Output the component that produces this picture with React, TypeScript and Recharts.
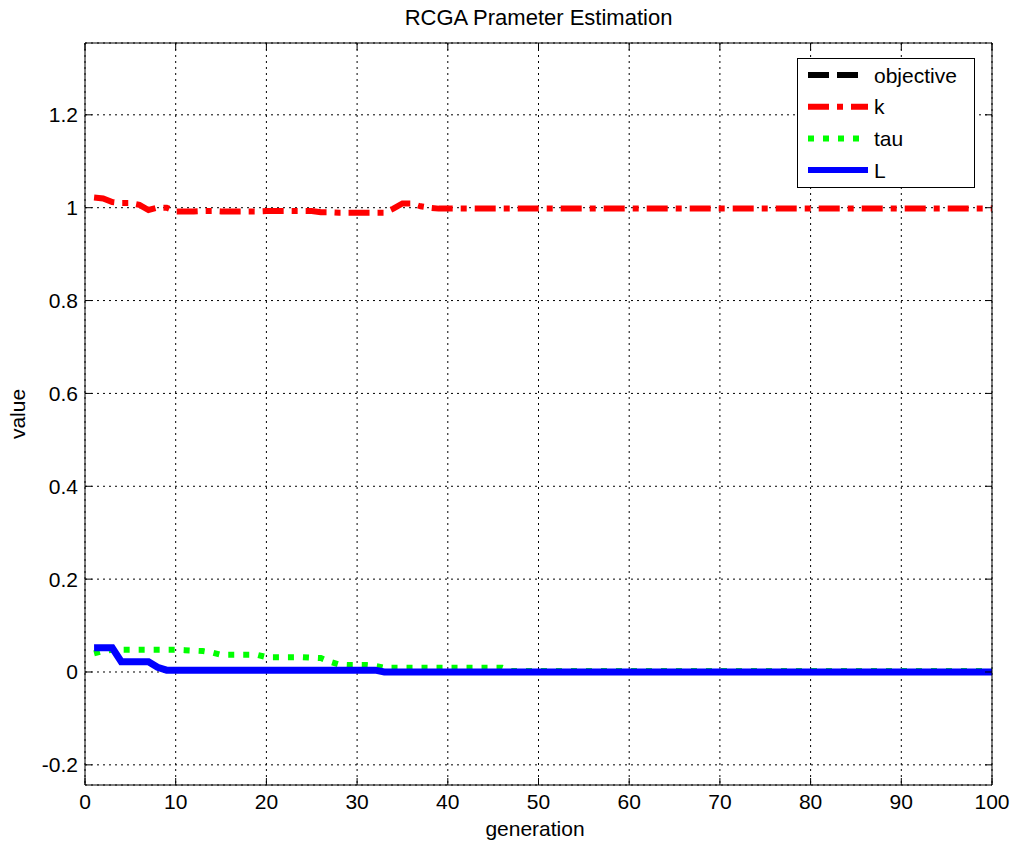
import React from "react";
import {
  LineChart,
  Line,
  XAxis,
  YAxis,
  CartesianGrid,
  Legend,
} from "recharts";

// generations 1..100
const generation = [
  1, 2, 3, 4, 5, 6, 7, 8, 9, 10, 11, 12, 13, 14, 15, 16, 17, 18, 19, 20,
  21, 22, 23, 24, 25, 26, 27, 28, 29, 30, 31, 32, 33, 34, 35, 36, 37, 38, 39, 40,
  41, 42, 43, 44, 45, 46, 47, 48, 49, 50, 51, 52, 53, 54, 55, 56, 57, 58, 59, 60,
  61, 62, 63, 64, 65, 66, 67, 68, 69, 70, 71, 72, 73, 74, 75, 76, 77, 78, 79, 80,
  81, 82, 83, 84, 85, 86, 87, 88, 89, 90, 91, 92, 93, 94, 95, 96, 97, 98, 99, 100,
];

const kValues = [
  1.022, 1.02, 1.012, 1.01, 1.01, 1.006, 0.995, 1.0, 1.0, 0.992,
  0.992, 0.992, 0.993, 0.993, 0.992, 0.992, 0.992, 0.992, 0.992, 0.993,
  0.993, 0.993, 0.993, 0.993, 0.993, 0.99, 0.99, 0.989, 0.989, 0.989,
  0.989, 0.989, 0.989, 0.998, 1.009, 1.009, 1.003, 1.0, 0.998, 0.998,
  0.998, 0.998, 0.998, 0.998, 0.998, 0.998, 0.998, 0.998, 0.998, 0.998,
  0.998, 0.998, 0.998, 0.998, 0.998, 0.998, 0.998, 0.998, 0.998, 0.998,
  0.998, 0.998, 0.998, 0.998, 0.998, 0.998, 0.998, 0.998, 0.998, 0.998,
  0.998, 0.998, 0.998, 0.998, 0.998, 0.998, 0.998, 0.998, 0.998, 0.998,
  0.998, 0.998, 0.998, 0.998, 0.998, 0.998, 0.998, 0.998, 0.998, 0.998,
  0.998, 0.998, 0.998, 0.998, 0.998, 0.998, 0.998, 0.998, 0.998, 0.998,
];

const tauValues = [
  0.04, 0.045, 0.048, 0.048, 0.048, 0.048, 0.048, 0.048, 0.048, 0.048,
  0.047, 0.046, 0.045, 0.042, 0.037, 0.037, 0.037, 0.037, 0.037, 0.032,
  0.032, 0.032, 0.032, 0.032, 0.031, 0.03, 0.022, 0.016, 0.015, 0.015,
  0.015, 0.013, 0.009, 0.009, 0.009, 0.009, 0.009, 0.009, 0.009, 0.009,
  0.009, 0.009, 0.009, 0.009, 0.009, 0.009, 0.002, 0.002, 0.002, 0.002,
  0.002, 0.002, 0.002, 0.002, 0.002, 0.002, 0.002, 0.002, 0.002, 0.002,
  0.002, 0.002, 0.002, 0.002, 0.002, 0.002, 0.002, 0.002, 0.002, 0.002,
  0.002, 0.002, 0.002, 0.002, 0.002, 0.002, 0.002, 0.002, 0.002, 0.002,
  0.002, 0.002, 0.002, 0.002, 0.002, 0.002, 0.002, 0.002, 0.002, 0.002,
  0.002, 0.002, 0.002, 0.002, 0.002, 0.002, 0.002, 0.002, 0.002, 0.002,
];

const lValues = [
  0.052, 0.052, 0.052, 0.022, 0.022, 0.022, 0.022, 0.01, 0.004, 0.004,
  0.004, 0.004, 0.004, 0.004, 0.004, 0.004, 0.004, 0.004, 0.004, 0.004,
  0.004, 0.004, 0.004, 0.004, 0.004, 0.004, 0.004, 0.004, 0.004, 0.004,
  0.004, 0.004, 0.0, 0.0, 0.0, 0.0, 0.0, 0.0, 0.0, 0.0,
  0.0, 0.0, 0.0, 0.0, 0.0, 0.0, 0.0, 0.0, 0.0, 0.0,
  0.0, 0.0, 0.0, 0.0, 0.0, 0.0, 0.0, 0.0, 0.0, 0.0,
  0.0, 0.0, 0.0, 0.0, 0.0, 0.0, 0.0, 0.0, 0.0, 0.0,
  0.0, 0.0, 0.0, 0.0, 0.0, 0.0, 0.0, 0.0, 0.0, 0.0,
  0.0, 0.0, 0.0, 0.0, 0.0, 0.0, 0.0, 0.0, 0.0, 0.0,
  0.0, 0.0, 0.0, 0.0, 0.0, 0.0, 0.0, 0.0, 0.0, 0.0,
];

const xTicks = [0, 10, 20, 30, 40, 50, 60, 70, 80, 90, 100];
const yTicks = [-0.2, 0, 0.2, 0.4, 0.6, 0.8, 1, 1.2];

const legendItems = [
  { name: "objective", color: "#000000", dash: "21 8 21 20" },
  { name: "k", color: "#ff0000", dash: "21 8 6 8" },
  { name: "tau", color: "#00ff00", dash: "6 9" },
  { name: "L", color: "#0000ff", dash: undefined },
];

const data = generation.map((g, i) => ({
  generation: g,
  k: kValues[i],
  tau: tauValues[i],
  L: lValues[i],
}));

const FONT = "'Liberation Sans', Arial, Helvetica, sans-serif";
const TICK_LEN = 7;
// plot box: left 85, right 992, top 43, bottom 785
const PLOT_W = 907;
const PLOT_H = 742;

// bottom labels + inward ticks on bottom and top edges
const BottomTick = (props: any) => {
  const { x, y, payload } = props;
  return (
    <g>
      <line x1={x} x2={x} y1={y} y2={y - TICK_LEN} stroke="#000" />
      <line x1={x} x2={x} y1={y - PLOT_H} y2={y - PLOT_H + TICK_LEN} stroke="#000" />
      <text
        x={x}
        y={y + 16}
        textAnchor="middle"
        dominantBaseline="central"
        fontSize={21}
        fontFamily={FONT}
        fill="#000"
      >
        {payload.value}
      </text>
    </g>
  );
};

// left labels + inward ticks on left and right edges
const LeftTick = (props: any) => {
  const { x, y, payload } = props;
  return (
    <g>
      <line x1={x} x2={x + TICK_LEN} y1={y} y2={y} stroke="#000" />
      <line x1={x + PLOT_W} x2={x + PLOT_W - TICK_LEN} y1={y} y2={y} stroke="#000" />
      <text
        x={x - 7}
        y={y}
        textAnchor="end"
        dominantBaseline="central"
        fontSize={21}
        fontFamily={FONT}
        fill="#000"
      >
        {payload.value}
      </text>
    </g>
  );
};

const LegendBox = () => (
  <svg width={178} height={130} style={{ display: "block" }}>
    <rect x={0.5} y={0.5} width={177} height={129} fill="#fff" stroke="#000" />
    {legendItems.map((item, i) => {
      const cy = 17 + i * 31.7;
      return (
        <g key={item.name}>
          <line
            x1={11}
            x2={71}
            y1={cy}
            y2={cy}
            stroke={item.color}
            strokeWidth={6}
            strokeDasharray={item.dash}
          />
          <text
            x={77}
            y={cy}
            dominantBaseline="central"
            fontSize={21}
            fontFamily={FONT}
            fill="#000"
          >
            {item.name}
          </text>
        </g>
      );
    })}
  </svg>
);

const App: React.FC = () => {
  return (
    <div
      style={{
        position: "absolute",
        left: 0,
        top: 0,
        width: 1019,
        height: 848,
        background: "#fff",
        fontFamily: FONT,
      }}
    >
      <div
        style={{
          position: "absolute",
          left: 0,
          width: 1077,
          top: 6,
          textAlign: "center",
          fontSize: 22,
          lineHeight: "24px",
          color: "#000",
        }}
      >
        RCGA Prameter Estimation
      </div>
      <div
        style={{
          position: "absolute",
          left: 0,
          width: 1070,
          top: 817,
          textAlign: "center",
          fontSize: 21,
          lineHeight: "24px",
          color: "#000",
        }}
      >
        generation
      </div>
      <div
        style={{
          position: "absolute",
          left: 18,
          top: 414,
          transform: "translate(-50%, -50%) rotate(-90deg)",
          fontSize: 21,
          lineHeight: "24px",
          color: "#000",
          whiteSpace: "nowrap",
        }}
      >
        value
      </div>
      <LineChart
        width={1019}
        height={848}
        data={data}
        margin={{ top: 23, right: 7, bottom: 33, left: 25 }}
      >
        <CartesianGrid stroke="#000" strokeDasharray="2 4" />
        <XAxis
          dataKey="generation"
          type="number"
          domain={[0, 100]}
          ticks={xTicks}
          allowDataOverflow
          height={30}
          tickSize={0}
          tickMargin={0}
          tickLine={false}
          tick={<BottomTick />}
          axisLine={{ stroke: "#000" }}
        />
        <XAxis
          xAxisId="top"
          orientation="top"
          type="number"
          domain={[0, 100]}
          height={20}
          tick={false}
          tickLine={false}
          axisLine={{ stroke: "#000" }}
        />
        <YAxis
          type="number"
          domain={[-0.2434, 1.3547]}
          ticks={yTicks}
          allowDataOverflow
          width={60}
          tickSize={0}
          tickMargin={0}
          tickLine={false}
          tick={<LeftTick />}
          axisLine={{ stroke: "#000" }}
        />
        <YAxis
          yAxisId="right"
          orientation="right"
          type="number"
          domain={[-0.2434, 1.3547]}
          width={20}
          tick={false}
          tickLine={false}
          axisLine={{ stroke: "#000" }}
        />
        <Legend
          layout="horizontal"
          verticalAlign="middle"
          align="center"
          content={() => <LegendBox />}
          wrapperStyle={{ left: 797, top: 58, width: 178, height: 130 }}
        />
        <Line
          dataKey="k"
          type="linear"
          stroke="#ff0000"
          strokeWidth={6}
          strokeDasharray="21 8 6 8"
          dot={false}
          activeDot={false}
          isAnimationActive={false}
        />
        <Line
          dataKey="tau"
          type="linear"
          stroke="#00ff00"
          strokeWidth={6}
          strokeDasharray="6 9"
          dot={false}
          activeDot={false}
          isAnimationActive={false}
        />
        <Line
          dataKey="L"
          type="linear"
          stroke="#0000ff"
          strokeWidth={7}
          dot={false}
          activeDot={false}
          isAnimationActive={false}
        />
      </LineChart>
    </div>
  );
};

export default App;
